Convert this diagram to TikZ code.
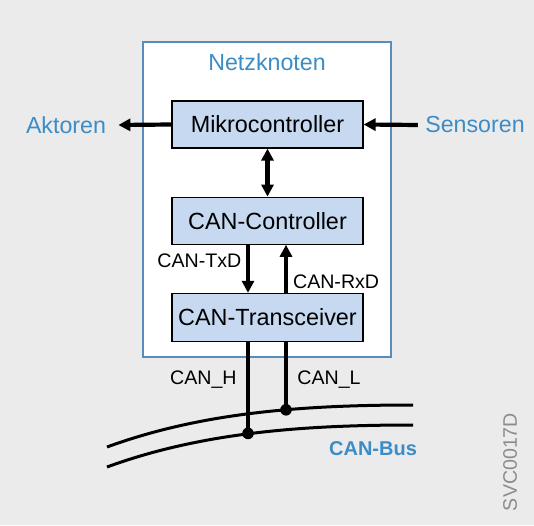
\documentclass[tikz,border=0pt]{standalone}
\usepackage{fontspec}
\setmainfont{Liberation Sans}
\usepackage{tikz}
\usetikzlibrary{arrows.meta,positioning}

\definecolor{bggray}{RGB}{235,235,235}
\definecolor{netzblue}{RGB}{59,140,199}
\definecolor{framblue}{RGB}{88,140,186}
\definecolor{blockfill}{RGB}{198,217,240}
\definecolor{codegray}{RGB}{140,140,140}

\tikzset{
    block/.style={draw=black,line width=0.6pt,fill=blockfill,inner sep=0pt,
        minimum width=95.5pt,minimum height=23.5pt,font=\fontsize{11.7}{14}\selectfont},
    outtxt/.style={text=netzblue,inner sep=3.5pt,font=\fontsize{11.6}{14}\selectfont},
    sig/.style={inner sep=0pt,font=\fontsize{9.8}{12}\selectfont},
    arr/.style={line width=2.1pt,-{Triangle[length=6pt,width=6pt]}},
    twoarr/.style={line width=2.1pt,{Triangle[length=6pt,width=6pt]}-{Triangle[length=6pt,width=6pt]}},
    wire/.style={line width=1.5pt}
}

\begin{document}
\begin{tikzpicture}[x=0.5pt,y=0.5pt]
    \fill[bggray] (0,0) rectangle (534,525);
    \useasboundingbox (0,0) rectangle (534,525);

    \node[draw=framblue,fill=white,line width=0.6pt,minimum width=124pt,minimum height=157.5pt] (netz) at (267,325.5) {};
    \node[outtxt] (titel) at (267,463) {Netzknoten};

    \node[block] (mikro) at (267.5,400.5) {Mikrocontroller};
    \node[block, below=24pt of mikro] (ctrl) {CAN-Controller};
    \node[block, below=24pt of ctrl, minimum height=24pt] (trans) {CAN-Transceiver};

    \node[outtxt, inner xsep=6pt] (akt) at (66,400) {Aktoren};
    \node[outtxt] (sens) at (475,400) {Sensoren};

    \draw[arr] (mikro.west) -- (akt.east);
    \draw[arr] (sens.west) -- (mikro.east);
    \draw[twoarr] (mikro) -- (ctrl);

    \coordinate (busL) at (286,115.2);
    \coordinate (busH) at (248,91.6);

    \draw[arr] (ctrl.south -| busH) -- (trans.north -| busH);
    \draw[arr] (trans.north -| busL) -- (ctrl.south -| busL);
    \node[sig, anchor=base east] (txd) at (241.7,257.7) {CAN-TxD};
    \node[sig, anchor=base west] (rxd) at (292.7,237) {CAN-RxD};

    \draw[wire] (107,78) .. controls (200,112) and (300,120) .. (413,120);
    \draw[wire] (107,58) .. controls (200,92) and (300,100) .. (413,100);

    \draw[line width=2pt] (trans.south -| busH) -- (busH);
    \draw[line width=2pt] (trans.south -| busL) -- (busL);
    \fill (busH) circle (2.9pt);
    \fill (busL) circle (2.9pt);
    \node[sig, anchor=base east] (canh) at (237,141) {CAN\_H};
    \node[sig, anchor=base west] (canl) at (297,141) {CAN\_L};

    \node[sig, anchor=base, text=netzblue, font=\fontsize{10}{12}\selectfont\bfseries] (bus) at (373,70) {CAN-Bus};
    \node[sig, rotate=90, text=codegray, font=\fontsize{9.8}{12}\selectfont] (svc) at (510,63) {SVC0017D};
\end{tikzpicture}
\end{document}
